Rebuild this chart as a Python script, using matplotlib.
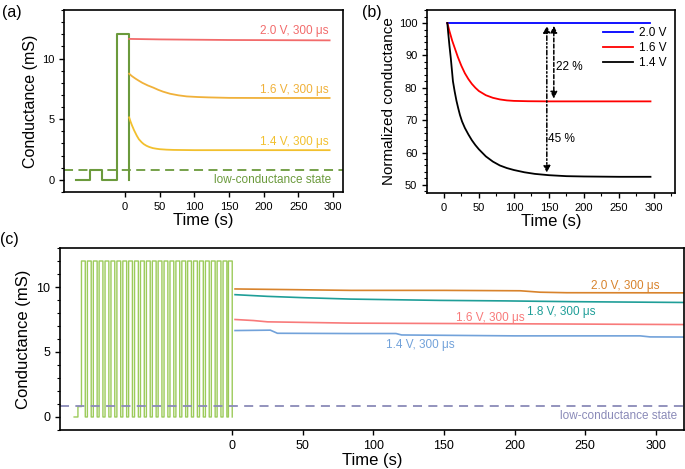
import numpy as np
import matplotlib.pyplot as plt
from matplotlib.ticker import MultipleLocator

plt.rcParams['font.family'] = ['Liberation Sans', 'DejaVu Sans']

# ---- panel (a) data ----
a_pulse_t = [-70, -50, -50, -33.5, -33.5, -11.5, -11.5, 5.8, 5.8]
a_pulse_g = [0, 0, 0.8, 0.8, 0, 0, 12, 12, 0]
a_low = 0.8
a20_t = [6, 50, 150, 295]
a20_g = [11.62, 11.58, 11.53, 11.5]
a16_t = [6, 10, 15, 20, 25, 33, 41, 48, 55, 65, 77, 89, 105, 120, 150, 200, 295]
a16_g = [8.75, 8.55, 8.35, 8.17, 8.0, 7.78, 7.6, 7.42, 7.27, 7.1, 6.97, 6.88, 6.83,
         6.8, 6.76, 6.75, 6.75]
a14_t = [6, 8, 10, 13, 17, 20, 24, 27, 31, 35, 40, 45, 50, 60, 70, 85, 100, 295]
a14_g = [5.15, 4.8, 4.5, 4.1, 3.64, 3.35, 3.1, 2.95, 2.81, 2.71, 2.62, 2.57, 2.53,
         2.49, 2.47, 2.46, 2.45, 2.45]

# ---- panel (b) data ----
b20_t = [5, 295]
b20_n = [100, 100]
b16_t = [5, 8, 12, 16, 20, 25, 30, 35, 40, 45, 50, 60, 70, 80, 90, 100, 120, 150, 295]
b16_n = [100, 97.5, 94.5, 92, 89.5, 86.8, 84.5, 82.7, 81.2, 80, 79, 77.7, 76.9, 76.4,
         76.1, 75.95, 75.85, 75.8, 75.8]
b14_t = [5, 6, 8, 10, 11.5, 13, 15.5, 18, 20.5, 23, 26, 30, 35, 40, 45, 50, 60, 70,
         80, 90, 100, 115, 130, 150, 175, 200, 250, 295]
b14_n = [100, 97.5, 93, 89, 85.5, 82, 78.8, 76, 73.7, 71.6, 69.6, 67.6, 65.6, 63.8,
         62.3, 61, 58.8, 57.2, 56, 55.2, 54.6, 53.9, 53.4, 53, 52.7, 52.6, 52.5, 52.5]

# ---- panel (c) data ----
c_pre_t = [-112, -109.3, -109.3, -106.8]
c_pre_g = [0, 0, 0.8, 0.8]
c_pulse_on = [-106.8, -102.6, -98.4, -94.3, -90.1, -85.9, -81.7, -77.5, -73.4, -69.2,
              -65.0, -60.8, -56.6, -52.5, -48.3, -44.1, -39.9, -35.7, -31.6, -27.4,
              -23.2, -19.0, -14.8, -10.7, -6.5, -2.7]
c_pulse_w = 2.7
c_pulse_high = 12
c_low = 0.85
c20_t = [2, 40, 84, 150, 204, 218, 237, 320]
c20_g = [9.85, 9.8, 9.74, 9.74, 9.71, 9.6, 9.56, 9.55]
c18_t = [2, 25, 50, 84, 147, 194, 242, 320]
c18_g = [9.41, 9.28, 9.18, 9.07, 8.97, 8.93, 8.87, 8.81]
c16_t = [2, 15, 25, 84, 200, 320]
c16_g = [7.5, 7.42, 7.32, 7.22, 7.17, 7.11]
c14_t = [2, 27, 32, 84, 116, 120, 200, 289, 296, 320]
c14_g = [6.65, 6.68, 6.44, 6.42, 6.42, 6.31, 6.24, 6.24, 6.16, 6.15]

fig = plt.figure(figsize=(6.85, 4.69), dpi=100)
ax1 = fig.add_axes([0.0934, 0.5906, 0.407, 0.388])
ax2 = fig.add_axes([0.6234, 0.5885, 0.362, 0.390])
ax3 = fig.add_axes([0.0876, 0.0832, 0.9109, 0.388])

for ax in (ax1, ax2, ax3):
    for s in ax.spines.values():
        s.set_linewidth(1.2)
    ax.tick_params(direction='out', width=1.0, length=3.5)
    ax.tick_params(which='minor', direction='out', width=0.8, length=2)

# (a)
ax1.plot(a_pulse_t, a_pulse_g, color='#6b9a3c', lw=1.5)
ax1.axhline(a_low, color='#6b9a3c', lw=1.3, ls=(0, (5, 3)))
ax1.plot(a20_t, a20_g, color='#f26b6b', lw=1.3)
ax1.plot(a16_t, a16_g, color='#f0b13a', lw=1.3)
ax1.plot(a14_t, a14_g, color='#f2c02e', lw=1.3)
ax1.text(293, 11.75, '2.0 V, 300 μs', color='#f26b6b', fontsize=8.5, ha='right', va='bottom')
ax1.text(293, 6.9, '1.6 V, 300 μs', color='#f0b13a', fontsize=8.5, ha='right', va='bottom')
ax1.text(293, 2.6, '1.4 V, 300 μs', color='#f2c02e', fontsize=8.5, ha='right', va='bottom')
ax1.text(297, -0.05, 'low-conductance state', color='#6b9a3c', fontsize=8.5, ha='right', va='center')
ax1.set_xlim(-88, 314)
ax1.set_ylim(-1, 14)
ax1.set_xticks([0, 50, 100, 150, 200, 250, 300])
ax1.set_yticks([0, 5, 10])
ax1.yaxis.set_minor_locator(MultipleLocator(1))
ax1.tick_params(labelsize=8)
ax1.set_xlabel('Time (s)', fontsize=12, labelpad=1)
ax1.set_ylabel('Conductance (mS)', fontsize=11.5, labelpad=3)

# (b)
ax2.plot(b20_t, b20_n, color='#0000ff', lw=1.3, label='2.0 V')
ax2.plot(b16_t, b16_n, color='#ff0000', lw=1.3, label='1.6 V')
ax2.plot(b14_t, b14_n, color='black', lw=1.3, label='1.4 V')
ax2.annotate('', xy=(147, 100), xytext=(147, 52.9),
             arrowprops=dict(arrowstyle='<|-|>', color='black', lw=1.1,
                             linestyle=(0, (3, 1.5, 1, 1.5, 1, 1.5)), mutation_scale=10))
ax2.annotate('', xy=(157, 100), xytext=(157, 75.8),
             arrowprops=dict(arrowstyle='<|-|>', color='black', lw=1.1,
                             linestyle=(0, (2.5, 1.5)), mutation_scale=10))
ax2.text(160, 86.5, '22 %', fontsize=8.5, va='center')
ax2.text(148.5, 64.2, '45 %', fontsize=8.5, va='center')
ax2.set_xlim(-24, 330)
ax2.set_ylim(47.5, 104)
ax2.set_xticks([0, 50, 100, 150, 200, 250, 300])
ax2.set_yticks([50, 60, 70, 80, 90, 100])
ax2.xaxis.set_minor_locator(MultipleLocator(25))
ax2.yaxis.set_minor_locator(MultipleLocator(2))
ax2.tick_params(labelsize=8)
ax2.set_xlabel('Time (s)', fontsize=12, labelpad=1)
ax2.set_ylabel('Normalized conductance', fontsize=11, labelpad=2)
ax2.legend(loc='upper right', frameon=False, fontsize=8.5, handlelength=2.6,
           handletextpad=0.5, labelspacing=0.25, borderaxespad=0.3,
           bbox_to_anchor=(1.0, 0.95))

# (c)
ct = list(c_pre_t)
cg = list(c_pre_g)
for t0 in c_pulse_on:
    ct += [t0, t0, t0 + c_pulse_w, t0 + c_pulse_w]
    cg += [cg[-1], c_pulse_high, c_pulse_high, 0]
ax3.plot(ct, cg, color='#9ccb5a', lw=1.0, snap=False)
ax3.axhline(c_low, color='#8a8ab8', lw=1.3, ls=(0, (5, 3.5)))
ax3.plot(c20_t, c20_g, color='#d8832c', lw=1.2)
ax3.plot(c18_t, c18_g, color='#1f9e98', lw=1.2)
ax3.plot(c16_t, c16_g, color='#f87a7a', lw=1.2)
ax3.plot(c14_t, c14_g, color='#72a2da', lw=1.2)
ax3.text(303, 10.1, '2.0 V, 300 μs', color='#d8832c', fontsize=8.5, ha='right', va='center')
ax3.text(233, 8.1, '1.8 V, 300 μs', color='#1f9e98', fontsize=8.5, ha='center', va='center')
ax3.text(207, 7.6, '1.6 V, 300 μs', color='#f87a7a', fontsize=8.5, ha='right', va='center')
ax3.text(133, 5.5, '1.4 V, 300 μs', color='#72a2da', fontsize=8.5, ha='center', va='center')
ax3.text(315, 0.1, 'low-conductance state', color='#8a8ab8', fontsize=8.5, ha='right', va='center')
ax3.set_xlim(-122, 320)
ax3.set_ylim(-1, 13)
ax3.set_xticks([0, 50, 100, 150, 200, 250, 300])
ax3.set_yticks([0, 5, 10])
ax3.yaxis.set_minor_locator(MultipleLocator(1))
ax3.tick_params(labelsize=9)
ax3.set_xlabel('Time (s)', fontsize=12, labelpad=1)
ax3.set_ylabel('Conductance (mS)', fontsize=12, labelpad=4)

fig.text(0.003, 0.99, '(a)', fontsize=11.5, va='top', ha='left')
fig.text(0.528, 0.99, '(b)', fontsize=11.5, va='top', ha='left')
fig.text(0.0, 0.505, '(c)', fontsize=11.5, va='top', ha='left')

fig.savefig('out.png', dpi=100)
